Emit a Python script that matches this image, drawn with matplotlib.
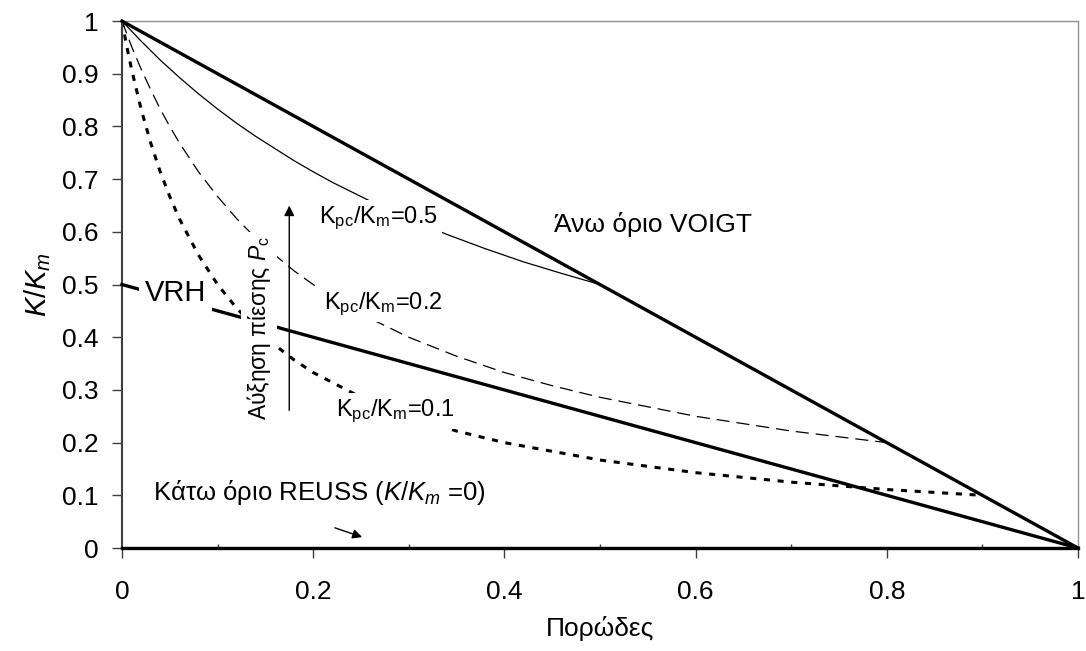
import matplotlib
matplotlib.use("Agg")
import matplotlib.pyplot as plt
from matplotlib.ticker import MultipleLocator

plt.rcParams['font.family'] = ['Liberation Sans', 'DejaVu Sans']
plt.rcParams['mathtext.fontset'] = 'custom'
plt.rcParams['mathtext.rm'] = 'Liberation Sans'
plt.rcParams['mathtext.it'] = 'Liberation Sans:italic'
plt.rcParams['mathtext.default'] = 'regular'

# Bounds
voigt_x = [0.0, 1.0]
voigt_y = [1.0, 0.0]
vrh_x = [0.0, 1.0]
vrh_y = [0.5, 0.0]
reuss_x = [0.0, 1.0]
reuss_y = [0.0, 0.0]

# Kpc/Km = 0.5 curve
k05_x = [0.0, 0.02, 0.04, 0.06, 0.08, 0.10, 0.12, 0.14, 0.16, 0.18, 0.20, 0.22, 0.24, 0.26,
         0.30, 0.34, 0.38, 0.42, 0.46, 0.5]
k05_y = [1.0, 0.962, 0.926, 0.893, 0.862, 0.833, 0.806, 0.781, 0.758, 0.735, 0.714, 0.694, 0.676, 0.658,
         0.625, 0.595, 0.568, 0.543, 0.521, 0.5]

# Kpc/Km = 0.2 curve
k02_x = [0.0, 0.01, 0.02, 0.03, 0.04, 0.05, 0.06, 0.08, 0.1, 0.12, 0.14, 0.16, 0.18, 0.2,
         0.25, 0.3, 0.35, 0.4, 0.45, 0.5, 0.6, 0.7, 0.8]
k02_y = [1.0, 0.952, 0.909, 0.87, 0.833, 0.80, 0.769, 0.714, 0.667, 0.625, 0.588, 0.556, 0.526, 0.50,
         0.444, 0.40, 0.364, 0.333, 0.308, 0.286, 0.25, 0.222, 0.2]

# Kpc/Km = 0.1 curve
k01_x = [0.0, 0.005, 0.01, 0.02, 0.03, 0.04, 0.05, 0.06, 0.08, 0.1, 0.12, 0.14, 0.16, 0.18, 0.2,
         0.25, 0.3, 0.35, 0.4, 0.5, 0.6, 0.7, 0.8, 0.9]
k01_y = [1.0, 0.952, 0.909, 0.833, 0.769, 0.714, 0.667, 0.625, 0.556, 0.5, 0.455, 0.417, 0.385, 0.357, 0.333,
         0.286, 0.25, 0.222, 0.2, 0.167, 0.143, 0.125, 0.111, 0.1]

fig = plt.figure(figsize=(10.86, 6.51), dpi=100)
ax = fig.add_axes([0.1123, 0.1582, 0.8803, 0.8095])

ax.plot(voigt_x, voigt_y, color='black', lw=2.4, zorder=3, clip_on=False)
ax.plot(vrh_x, vrh_y, color='black', lw=2.4, zorder=3, clip_on=False)
ax.plot(reuss_x, reuss_y, color='black', lw=2.4, zorder=3, clip_on=False)
ax.plot(k05_x, k05_y, color='black', lw=0.9, zorder=2)
ax.plot(k02_x, k02_y, color='black', lw=0.9, dashes=(10.5, 5.5), zorder=2)
ax.plot(k01_x, k01_y, color='black', lw=2.2, dashes=(2.0, 2.5), zorder=2)

box = dict(facecolor='white', edgecolor='none', pad=3)

ax.text(0.555, 0.613, 'Άνω όριο VOIGT', fontsize=19, ha='center', va='center', zorder=5)
ax.text(0.268, 0.626, 'K$_{pc}$/K$_{m}$=0.5', fontsize=17, ha='center', va='center',
        bbox=box, zorder=5)
ax.text(0.273, 0.463, 'K$_{pc}$/K$_{m}$=0.2', fontsize=17, ha='center', va='center',
        bbox=box, zorder=5)
ax.text(0.286, 0.260, 'K$_{pc}$/K$_{m}$=0.1', fontsize=17, ha='center', va='center',
        bbox=box, zorder=5)
ax.text(0.056, 0.484, 'VRH', fontsize=21, ha='center', va='center',
        bbox=dict(facecolor='white', edgecolor='none', pad=4), zorder=5)
ax.text(0.143, 0.417, r'Αύξηση πίεσης $\mathit{P}_{c}$', fontsize=16.5, rotation=90,
        ha='center', va='center', bbox=dict(facecolor='white', edgecolor='none', pad=3), zorder=5)
ax.text(0.032, 0.106, r'Κάτω όριο REUSS ($\mathit{K/K}_{\mathit{m}}$ =0)', fontsize=18.5,
        ha='left', va='center', zorder=5)

# arrows
ax.annotate('', xy=(0.175, 0.655), xytext=(0.175, 0.256),
            arrowprops=dict(arrowstyle='-|>', color='black', lw=1.0, mutation_scale=15), zorder=6)
ax.annotate('', xy=(0.254, 0.019), xytext=(0.22, 0.04),
            arrowprops=dict(arrowstyle='-|>', color='black', lw=1.0, mutation_scale=14), zorder=6)

ax.set_xlim(0, 1)
ax.set_ylim(0, 1)
ax.xaxis.set_minor_locator(MultipleLocator(0.1))
ax.set_xticks([0, 0.2, 0.4, 0.6, 0.8, 1.0])
ax.set_xticklabels(['0', '0.2', '0.4', '0.6', '0.8', '1'])
ax.set_yticks([i / 10 for i in range(11)])
ax.set_yticklabels(['0', '0.1', '0.2', '0.3', '0.4', '0.5', '0.6', '0.7', '0.8', '0.9', '1'])
ax.tick_params(axis='both', which='major', labelsize=19, length=7, width=1, color='#404040',
               direction='out')
ax.tick_params(axis='x', which='major', pad=16)
ax.tick_params(axis='y', which='major', pad=10)
ax.tick_params(axis='x', which='minor', length=3, width=1, color='#404040', direction='in')

ax.spines['left'].set_color('#404040')
ax.spines['left'].set_linewidth(1.5)
ax.spines['bottom'].set_color('black')
ax.spines['bottom'].set_linewidth(1.5)
ax.spines['top'].set_color('#909090')
ax.spines['right'].set_color('#909090')
ax.spines['top'].set_linewidth(1)
ax.spines['right'].set_linewidth(1)

ax.set_xlabel('Πορώδες', fontsize=19, labelpad=9)
ax.set_ylabel(r'$\mathit{K/K_{m}}$', fontsize=21, labelpad=6)

fig.savefig('out.png', dpi=100)
